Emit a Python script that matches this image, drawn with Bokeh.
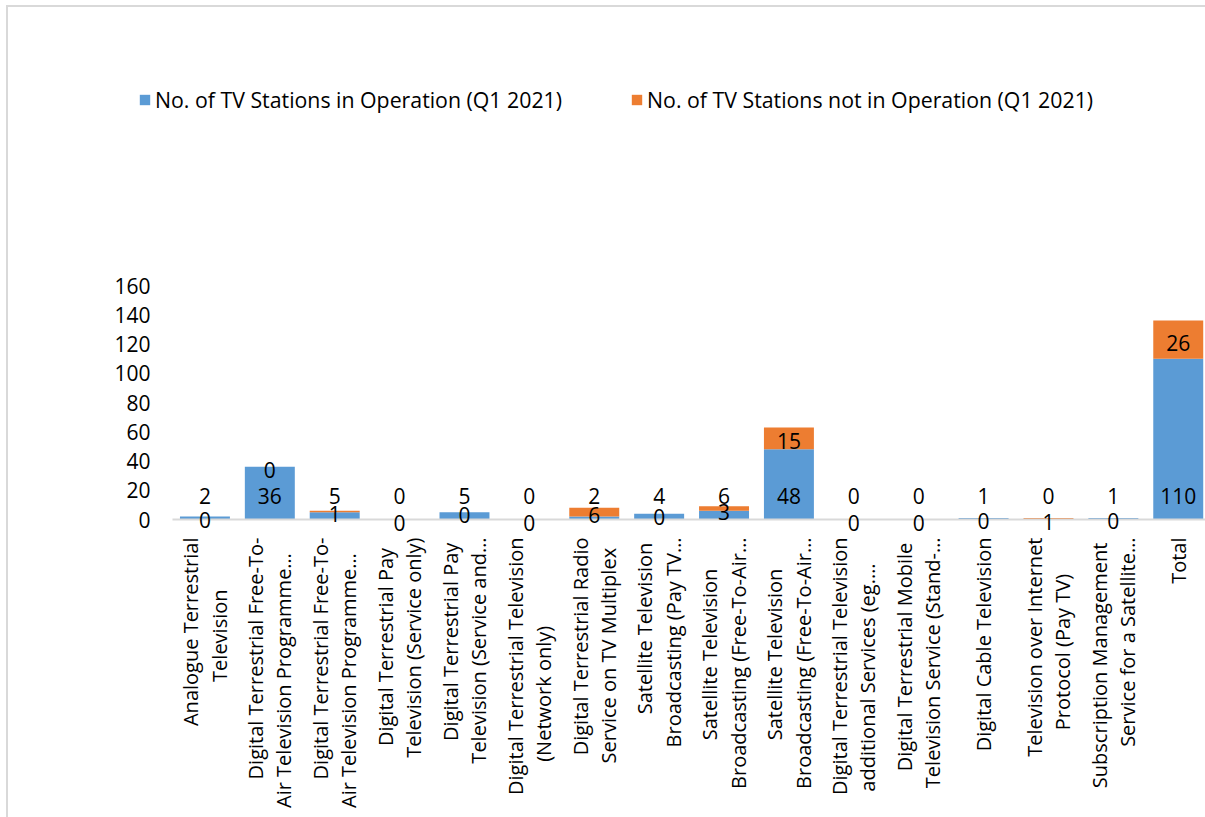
import numpy as np
from bokeh.plotting import figure
from bokeh.models import (ColumnDataSource, FixedTicker, Range1d,
                          Legend, LegendItem)
from bokeh.core.properties import value
from bokeh.embed import file_html
from bokeh.resources import INLINE

# ---------------- data ----------------
categories = [
    "Analogue Terrestrial\nTelevision",
    "Digital Terrestrial Free-To-\nAir Television Programme…",
    "Digital Terrestrial Free-To-\nAir Television Programme…",
    "Digital Terrestrial Pay\nTelevision (Service only)",
    "Digital Terrestrial Pay\nTelevision (Service and…",
    "Digital Terrestrial Television\n(Network only)",
    "Digital Terrestrial Radio\nService on TV Multiplex",
    "Satellite Television\nBroadcasting (Pay TV…",
    "Satellite Television\nBroadcasting (Free-To-Air…",
    "Satellite Television\nBroadcasting (Free-To-Air…",
    "Digital Terrestrial Television\nadditional Services (eg.…",
    "Digital Terrestrial Mobile\nTelevision Service (Stand-…",
    "Digital Cable Television",
    "Television over Internet\nProtocol (Pay TV)",
    "Subscription Management\nService for a Satellite…",
    "Total",
]
in_operation = [2, 36, 5, 0, 5, 0, 2, 4, 6, 48, 0, 0, 1, 0, 1, 110]
not_in_operation = [0, 0, 1, 0, 0, 0, 6, 0, 3, 15, 0, 0, 0, 1, 0, 26]
series_names = ["No. of TV Stations in Operation (Q1 2021)",
                "No. of TV Stations not in Operation (Q1 2021)"]
y_ticks = [0, 20, 40, 60, 80, 100, 120, 140, 160]

# ---------------- styles ----------------
BLUE = "#5B9BD5"
ORANGE = "#ED7D31"
FONT = "Open Sans"
NUM_SIZE = "21px"
CAT_SIZE = "20px"
LEG_SIZE = "21.3px"
BORDER = "#D9D9D9"


def centred(label):
    # pad shorter lines (no-break spaces) so lines appear centred
    lines = label.split("\n")
    m = max(len(s) for s in lines)
    return "\n".join(s + "\u00a0" * int(round((m - len(s)) * 1.05)) for s in lines)


x = list(range(len(categories)))
op = np.array(in_operation, dtype=float)
nop = np.array(not_in_operation, dtype=float)

src = ColumnDataSource(dict(
    x=x, op=in_operation, nop=not_in_operation,
    op_txt=[str(v) for v in in_operation],
    nop_txt=[str(v) for v in not_in_operation],
    op_y=[0.0] * len(x),
    nop_y=list(op + nop / 2.0),
))

p = figure(width=1205, height=817,
           x_range=Range1d(-1.178, 15.42), y_range=Range1d(-8.2, 300.2),
           output_backend="svg", toolbar_location=None,
           min_border_left=128, min_border_right=0,
           min_border_top=80, min_border_bottom=286)

# light chart-area border (top and left edges) drawn behind the transparent canvas
p.border_fill_color = None
p.background_fill_color = None
p.styles = {
    "background": (f"linear-gradient({BORDER},{BORDER}) 6px 5px / 2px 100% no-repeat, "
                   f"linear-gradient({BORDER},{BORDER}) 6px 5px / 100% 2px no-repeat, white"),
}

rs = p.vbar_stack(["op", "nop"], x="x", width=0.77, color=[BLUE, ORANGE],
                  line_color=None, source=src)

# category axis line at zero
p.segment(x0=[-0.5], x1=[len(categories) - 0.5], y0=[0], y1=[0],
          line_color=BORDER, line_width=2)

# data labels
p.text(x="x", y="op_y", text="op_txt", source=src, y_offset=-24,
       text_align="center", text_baseline="middle",
       text_font=value(FONT), text_font_size=NUM_SIZE, text_color="black")
p.text(x="x", y="nop_y", text="nop_txt", source=src, y_offset=3,
       text_align="center", text_baseline="middle",
       text_font=value(FONT), text_font_size=NUM_SIZE, text_color="black")

# axes
p.xaxis.ticker = FixedTicker(ticks=x)
p.xaxis.major_label_overrides = {i: centred(c) for i, c in zip(x, categories)}
p.xaxis.major_label_orientation = np.pi / 2
p.xaxis.axis_line_color = None
p.xaxis.major_tick_line_color = None
p.xaxis.minor_tick_line_color = None
p.xaxis.major_tick_out = 0
p.xaxis.major_tick_in = 0
p.xaxis.major_label_standoff = 6
p.xaxis.major_label_text_font = FONT
p.xaxis.major_label_text_font_size = CAT_SIZE
p.xaxis.major_label_text_line_height = 1.05
p.xaxis.major_label_text_color = "black"

p.yaxis.ticker = FixedTicker(ticks=y_ticks)
p.yaxis.axis_line_color = None
p.yaxis.major_tick_line_color = None
p.yaxis.minor_tick_line_color = None
p.yaxis.major_tick_out = 0
p.yaxis.major_tick_in = 0
p.yaxis.major_label_standoff = -22
p.yaxis.major_label_text_font = FONT
p.yaxis.major_label_text_font_size = NUM_SIZE
p.yaxis.major_label_text_color = "black"

p.xgrid.visible = False
p.ygrid.visible = False
p.outline_line_color = None

legend = Legend(items=[LegendItem(label=series_names[0], renderers=[rs[0]]),
                       LegendItem(label=series_names[1], renderers=[rs[1]])],
                orientation="horizontal", location=(10, 417),
                padding=0, margin=0, spacing=68,
                glyph_width=13, glyph_height=13, label_standoff=4,
                border_line_color=None, background_fill_alpha=0,
                label_text_font=FONT, label_text_font_size=LEG_SIZE,
                label_text_color="black")
p.add_layout(legend)

open("out.html", "w").write(file_html(p, INLINE))
